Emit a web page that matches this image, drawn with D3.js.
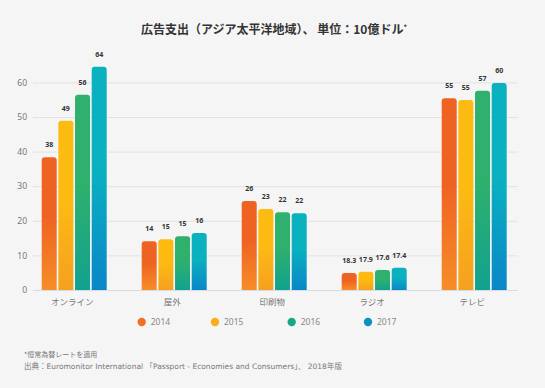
<!DOCTYPE html>
<html>
<head>
<meta charset="utf-8">
<script src="https://cdn.jsdelivr.net/npm/d3@7"></script>
<style>
  body { margin: 0; background: #f5f5f5; }
  svg { display: block; font-family: "Noto Sans CJK JP", "Noto Sans", sans-serif; }
</style>
</head>
<body>
<div id="chart"></div>
<script>
var w = 545;
var h = 388;

var categories = ["オンライン", "屋外", "印刷物", "ラジオ", "テレビ"];
var years = ["2014", "2015", "2016", "2017"];

// bar heights as drawn in the picture
var values2014 = [38.4, 14.1, 25.7, 4.9, 55.4];
var values2015 = [48.9, 14.7, 23.4, 5.3, 54.9];
var values2016 = [56.4, 15.5, 22.5, 5.8, 57.6];
var values2017 = [64.5, 16.5, 22.2, 6.4, 59.8];

// printed labels above bars
var labels2014 = ["38", "14", "26", "18.3", "55"];
var labels2015 = ["49", "15", "23", "17.9", "55"];
var labels2016 = ["56", "15", "22", "17.6", "57"];
var labels2017 = ["64", "16", "22", "17.4", "60"];

var yTicks = [0, 10, 20, 30, 40, 50, 60];

var allValues = [values2014, values2015, values2016, values2017];
var allLabels = [labels2014, labels2015, labels2016, labels2017];

var topColors = ["#ef6322", "#fdbb12", "#2fb06c", "#0ab2c0"];
var bottomColors = ["#f68d28", "#f6a020", "#11a290", "#0a86c8"];
var legendColors = ["#f27023", "#fcae18", "#17a985", "#0b90c6"];

var svg = d3.select("#chart")
            .append("svg")
            .attr("width", w)
            .attr("height", h);

svg.append("rect").attr("width", w).attr("height", h).attr("fill", "#f5f5f5");

var defs = svg.append("defs");
years.forEach(function(y, i) {
    var g = defs.append("linearGradient")
        .attr("id", "grad" + i)
        .attr("x1", 0).attr("y1", 0).attr("x2", 0).attr("y2", 1);
    g.append("stop").attr("offset", "0%").attr("stop-color", topColors[i]);
    g.append("stop").attr("offset", "45%").attr("stop-color", topColors[i]);
    g.append("stop").attr("offset", "100%").attr("stop-color", bottomColors[i]);
});

// Title
svg.append("text")
   .attr("x", 274)
   .attr("y", 34)
   .attr("text-anchor", "middle")
   .attr("font-size", 12)
   .attr("font-weight", "bold")
   .attr("fill", "#333")
   .text("広告支出（アジア太平洋地域）、 単位：10億ドル")
   .append("tspan")
   .attr("dy", -4)
   .attr("font-size", 7)
   .text("*");

//Create scale functions
var xScale = d3.scaleBand()
               .domain(categories)
               .range([24.2, 524.2])
               .paddingInner(0.35)
               .paddingOuter(0.175);

var xInner = d3.scaleBand()
               .domain(years)
               .range([0, xScale.bandwidth()])
               .paddingInner(0.1);

var yScale = d3.scaleLinear()
               .domain([0, 60])
               .range([290, 82.4]);

// grid lines
svg.selectAll("line.grid")
   .data(yTicks)
   .enter()
   .append("line")
   .attr("class", "grid")
   .attr("x1", 33)
   .attr("x2", 518)
   .attr("y1", function(d) { return yScale(d) + 0.5; })
   .attr("y2", function(d) { return yScale(d) + 0.5; })
   .attr("stroke", function(d) { return d === 0 ? "#d6dce4" : "#e2e2e2"; })
   .attr("stroke-width", 1);

//Create Y axis
var yAxis = d3.axisLeft(yScale).tickValues(yTicks).tickSize(0).tickPadding(6);
var yg = svg.append("g")
    .attr("class", "y axis")
    .attr("transform", "translate(33,0)")
    .call(yAxis);
yg.select(".domain").remove();
yg.selectAll("text").attr("font-size", 8.5).attr("fill", "#777").attr("font-family", "'Noto Sans', sans-serif");

// rounded-top bar path
function barPath(x, y, bw, bh) {
    var r = Math.min(3, bh);
    return "M" + x + "," + (y + bh) +
           "V" + (y + r) +
           "Q" + x + "," + y + " " + (x + r) + "," + y +
           "H" + (x + bw - r) +
           "Q" + (x + bw) + "," + y + " " + (x + bw) + "," + (y + r) +
           "V" + (y + bh) + "Z";
}

var groups = svg.selectAll("g.cat")
    .data(categories)
    .enter()
    .append("g")
    .attr("class", "cat")
    .attr("transform", function(d) { return "translate(" + xScale(d) + ",0)"; });

groups.each(function(cat, ci) {
    var g = d3.select(this);
    var rows = years.map(function(y, yi) {
        return { year: y, yi: yi, v: allValues[yi][ci], label: allLabels[yi][ci] };
    });
    g.selectAll("path")
     .data(rows)
     .enter()
     .append("path")
     .attr("d", function(d) {
         return barPath(xInner(d.year), yScale(d.v), xInner.bandwidth(), yScale(0) - yScale(d.v));
     })
     .attr("fill", function(d) { return "url(#grad" + d.yi + ")"; });
    g.selectAll("text")
     .data(rows)
     .enter()
     .append("text")
     .attr("x", function(d) { return xInner(d.year) + xInner.bandwidth() / 2; })
     .attr("y", function(d) { return yScale(d.v) - 10; })
     .attr("text-anchor", "middle")
     .attr("font-size", 7)
     .attr("font-weight", "bold")
     .attr("fill", "#333")
     .attr("font-family", "'Noto Sans', sans-serif")
     .text(function(d) { return d.label; });
});

// category labels
svg.selectAll("text.cat")
   .data(categories)
   .enter()
   .append("text")
   .attr("class", "cat")
   .attr("x", function(d) { return xScale(d) + xScale.bandwidth() / 2 - 2; })
   .attr("y", 305)
   .attr("text-anchor", "middle")
   .attr("font-size", 8.5)
   .attr("fill", "#777")
   .text(function(d) { return d; });

// legend
var legendX = [141.7, 215, 291.7, 368];
var legend = svg.selectAll("g.legend")
    .data(years)
    .enter()
    .append("g")
    .attr("class", "legend")
    .attr("transform", function(d, i) { return "translate(" + legendX[i] + ",322)"; });
legend.append("circle")
      .attr("r", 4.2)
      .attr("fill", function(d, i) { return legendColors[i]; });
legend.append("text")
      .attr("x", 9)
      .attr("y", 3)
      .attr("font-size", 8.5)
      .attr("fill", "#888")
      .attr("font-family", "'Noto Sans', sans-serif")
      .text(function(d) { return d; });

// footnotes
svg.append("text")
   .attr("x", 24)
   .attr("y", 357)
   .attr("font-size", 7)
   .attr("fill", "#777")
   .text("*恒常為替レートを適用");
svg.append("text")
   .attr("x", 24)
   .attr("y", 369)
   .attr("font-size", 7.5)
   .attr("fill", "#777")
   .attr("font-family", "'DejaVu Sans', 'Noto Sans CJK JP', sans-serif")
   .text("出典：Euromonitor International 「Passport - Economies and Consumers」、 2018年版");
</script>
</body>
</html>
